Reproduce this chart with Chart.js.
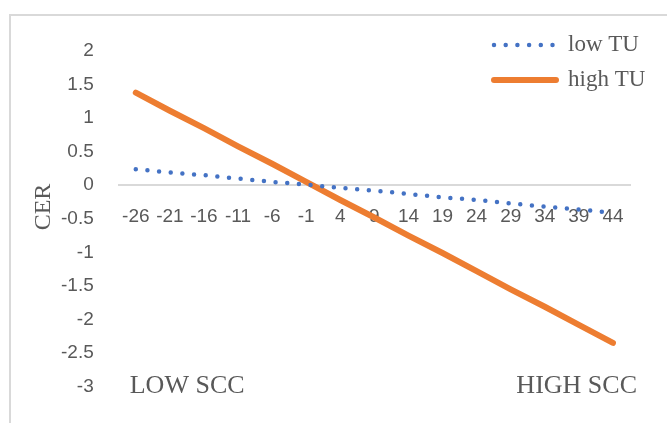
<!DOCTYPE html>
<html>
<head>
<meta charset="utf-8">
<script src="https://cdn.jsdelivr.net/npm/chart.js@4"></script>
<style>
  html, body { margin: 0; padding: 0; background: #fff; }
  #wrap { position: relative; width: 667px; height: 423px; overflow: hidden; }
  #frame { position: absolute; left: 9px; top: 14px; width: 700px; height: 460px;
           border-left: 2px solid #d9d9d9; border-top: 2px solid #d9d9d9; }
  canvas { position: absolute; left: 0; top: 0; }
</style>
</head>
<body>
<div id="wrap">
  <div id="frame"></div>
  <canvas id="chart" width="667" height="423"></canvas>
</div>
<script>
// categories on the x axis
const categories = [-26, -21, -16, -11, -6, -1, 4, 9, 14, 19, 24, 29, 34, 39, 44];

// values
const lowTU  = [0.24, 0.19, 0.15, 0.10, 0.05, 0.01, -0.04, -0.08, -0.13, -0.18, -0.22, -0.27, -0.32, -0.36, -0.41];
const highTU = [1.38, 1.11, 0.85, 0.58, 0.32, 0.05, -0.22, -0.48, -0.75, -1.01, -1.28, -1.55, -1.81, -2.08, -2.35];

const seriesNames = ["low TU", "high TU"];
const yTitle = "CER";
const endLabels = ["LOW SCC", "HIGH SCC"];

const textColor = "#595959";
const sansFont = "'Liberation Sans', Arial, sans-serif";
const serifFont = "'Liberation Serif', 'Times New Roman', serif";

// legend, y title and the LOW / HIGH SCC words
const extras = {
  id: "extras",
  afterDraw(c) {
    const ctx = c.ctx;
    const area = c.chartArea;
    const y = c.scales.y;
    ctx.save();

    // y title
    ctx.fillStyle = textColor;
    ctx.font = "24px " + serifFont;
    ctx.textAlign = "center";
    ctx.textBaseline = "middle";
    ctx.translate(44, 207);
    ctx.rotate(-Math.PI / 2);
    ctx.fillText(yTitle, 0, 0);
    ctx.setTransform(1, 0, 0, 1, 0, 0);

    // bottom words
    ctx.font = "26px " + serifFont;
    ctx.textBaseline = "middle";
    const by = y.getPixelForValue(-3);
    ctx.textAlign = "left";
    ctx.fillText(endLabels[0], area.left + 11, by);
    ctx.textAlign = "right";
    ctx.fillText(endLabels[1], area.right + 7, by);

    // legend
    const lx = 494, rows = [45, 80];
    c.data.datasets.forEach((ds, i) => {
      ctx.save();
      ctx.strokeStyle = ds.borderColor;
      ctx.lineWidth = ds.borderWidth;
      ctx.lineCap = "round";
      ctx.setLineDash(ds.borderDash || []);
      ctx.beginPath();
      ctx.moveTo(lx, rows[i]);
      ctx.lineTo(lx + 62, rows[i]);
      ctx.stroke();
      ctx.restore();
      ctx.fillStyle = textColor;
      ctx.font = "23px " + serifFont;
      ctx.textAlign = "left";
      ctx.textBaseline = "middle";
      ctx.fillText(ds.label, 568, rows[i]);
    });
    ctx.restore();
  }
};

new Chart(document.getElementById("chart"), {
  type: "line",
  data: {
    labels: categories,
    datasets: [
      {
        label: seriesNames[0],
        data: lowTU,
        borderColor: "#4472C4",
        borderWidth: 4.5,
        borderDash: [0, 11.7],
        borderCapStyle: "round",
        pointRadius: 0,
        tension: 0
      },
      {
        label: seriesNames[1],
        data: highTU,
        borderColor: "#ED7D31",
        borderWidth: 6,
        borderCapStyle: "round",
        pointRadius: 0,
        tension: 0
      }
    ]
  },
  options: {
    responsive: false,
    animation: false,
    layout: { padding: { left: 36, right: 37, top: 51, bottom: 32 } },
    plugins: { legend: { display: false }, tooltip: { enabled: false } },
    scales: {
      x: {
        type: "category",
        position: { y: 0 },
        offset: true,
        grid: { display: false, drawTicks: false },
        border: { display: true, color: "#d9d9d9", width: 2 },
        ticks: {
          color: textColor,
          font: { family: sansFont, size: 19 },
          padding: 20,
          autoSkip: false,
          maxRotation: 0
        },
        // the axis sits on y = 0, so it should not take room at the bottom
        afterFit: s => { s.height = 0; }
      },
      y: {
        min: -3,
        max: 2,
        grid: { display: false, drawTicks: false },
        border: { display: false },
        ticks: {
          stepSize: 0.5,
          color: textColor,
          font: { family: sansFont, size: 19 },
          padding: 25,
          callback: v => String(v)
        }
      }
    }
  },
  plugins: [extras]
});
</script>
</body>
</html>
